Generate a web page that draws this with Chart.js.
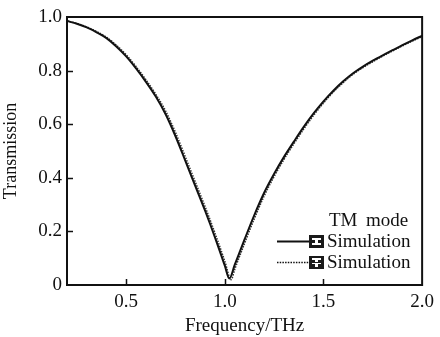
<!DOCTYPE html>
<html><head><meta charset="utf-8">
<script src="https://cdn.jsdelivr.net/npm/chart.js@4/dist/chart.umd.min.js"></script>
<style>html,body{margin:0;padding:0;background:#fff}#wrap{width:440px;height:337px;position:relative}</style>
</head><body><div id="wrap"><canvas id="c" width="440" height="337"></canvas></div>
<script>
const freqSolid  = [0.2,0.25,0.3,0.35,0.4,0.45,0.5,0.55,0.6,0.65,0.7,0.75,0.8,0.85,0.9,0.95,1.0,1.023,1.05,1.1,1.15,1.2,1.25,1.3,1.35,1.4,1.45,1.5,1.55,1.6,1.65,1.7,1.75,1.8,1.85,1.9,1.95,2.0];
const transSolid = [0.985,0.975,0.961,0.943,0.921,0.89,0.853,0.808,0.758,0.703,0.637,0.555,0.463,0.37,0.277,0.178,0.072,0.024,0.075,0.17,0.262,0.345,0.415,0.478,0.535,0.59,0.64,0.685,0.725,0.76,0.79,0.815,0.837,0.857,0.876,0.895,0.913,0.93];
const freqDotted  = [0.2,0.25,0.3,0.35,0.4,0.45,0.5,0.55,0.6,0.65,0.7,0.75,0.8,0.85,0.9,0.95,1.0,1.032,1.05,1.1,1.15,1.2,1.25,1.3,1.35,1.4,1.45,1.5,1.55,1.6,1.65,1.7,1.75,1.8,1.85,1.9,1.95,2.0];
const transDotted = [0.985,0.976,0.963,0.946,0.925,0.895,0.859,0.815,0.766,0.712,0.649,0.569,0.478,0.385,0.292,0.194,0.089,0.02,0.058,0.155,0.248,0.333,0.405,0.469,0.527,0.582,0.633,0.679,0.72,0.755,0.786,0.811,0.833,0.854,0.873,0.892,0.91,0.927];
const xTicks = [0.5,1.0,1.5,2.0];
const yTicks = [0,0.2,0.4,0.6,0.8,1.0];
const legendTitle = 'TM mode';
const legendLabels = ['Simulation','Simulation'];

const FONT = 'Liberation Serif';
const pts = (xs, ys) => xs.map((x,i)=>({x, y: ys[i]}));

const frame = {
  id:'frame',
  afterDraw(chart){
    const {ctx, chartArea:a, scales} = chart;
    ctx.save();
    ctx.strokeStyle = '#111'; ctx.lineWidth = 2;
    ctx.strokeRect(a.left, a.top, a.right-a.left, a.bottom-a.top);
    ctx.lineWidth = 1.5;
    ctx.beginPath();
    xTicks.forEach(v=>{ const px = Math.round(scales.x.getPixelForValue(v))+0.5; if(v<2){ctx.moveTo(px,a.bottom); ctx.lineTo(px,a.bottom-6);} });
    yTicks.forEach(v=>{ const py = Math.round(scales.y.getPixelForValue(v))+0.5; if(v>0 && v<1){ctx.moveTo(a.left,py); ctx.lineTo(a.left+6,py);} });
    ctx.stroke();
    // legend
    ctx.fillStyle = '#111';
    ctx.font = '19px "' + FONT + '"';
    ctx.textBaseline = 'middle';
    ctx.textAlign = 'left';
    ctx.fillText(legendTitle.replace(' ','\u2009 '), 329, 221);
    const rows = [241, 262];
    rows.forEach((y,i)=>{
      ctx.save();
      ctx.strokeStyle = '#111';
      ctx.lineWidth = i===0 ? 2 : 1.5;
      ctx.setLineDash(i===0 ? [] : [1.5,1.2]);
      ctx.beginPath(); ctx.moveTo(277,y+0.5); ctx.lineTo(309,y+0.5); ctx.stroke();
      ctx.restore();
      ctx.fillStyle = '#1a1a1a';
      ctx.fillRect(309, y-6, 15, 13);
      ctx.fillStyle = '#fff';
      if(i===0){
        ctx.fillRect(312, y-3, 9, 2);
        ctx.fillRect(315, y-1, 3, 3);
        ctx.fillRect(312, y+2, 9, 2);
      } else {
        ctx.fillRect(312, y-4, 9, 2);
        ctx.fillRect(315, y-2, 3, 2);
        ctx.fillRect(312, y+1, 9, 1);
        ctx.fillRect(315, y+2, 3, 3);
      }
      ctx.fillStyle = '#111';
      ctx.fillText(legendLabels[i], 327, y+1);
    });
    ctx.restore();
  }
};

new Chart(document.getElementById('c'), {
  type:'line',
  data:{ datasets:[
    { data: pts(freqSolid, transSolid), borderColor:'#111', borderWidth:2, pointRadius:0, cubicInterpolationMode:'monotone', fill:false },
    { data: pts(freqDotted, transDotted), borderColor:'#333', borderWidth:1.5, borderDash:[1.5,1.2], pointRadius:0, cubicInterpolationMode:'monotone', fill:false }
  ]},
  options:{
    responsive:false, animation:false,
    layout:{ padding:{ left:0, top:17, right:13, bottom:0 } },
    plugins:{ legend:{display:false}, tooltip:{enabled:false} },
    scales:{
      x:{ type:'linear', min:0.2, max:2.0,
        afterBuildTicks: s => { s.ticks = xTicks.map(v=>({value:v})); },
        afterFit: s => { s.height = 52; },
        grid:{ display:false, drawTicks:false }, border:{ display:false },
        ticks:{ color:'#111', font:{ family:FONT, size:19 }, padding:6, maxRotation:0, autoSkip:false,
          callback: v => v.toFixed(1) },
        title:{ display:true, text:'Frequency/THz', color:'#111', font:{ family:FONT, size:19 }, padding:{top:2,bottom:0} }
      },
      y:{ type:'linear', min:0, max:1.0,
        afterBuildTicks: s => { s.ticks = yTicks.map(v=>({value:v})); },
        afterFit: s => { s.width = 67; },
        grid:{ display:false, drawTicks:false }, border:{ display:false },
        ticks:{ color:'#111', font:{ family:FONT, size:19 }, padding:5, autoSkip:false,
          callback: v => v===0 ? '0' : v.toFixed(1) },
        title:{ display:true, text:'Transmission', color:'#111', font:{ family:FONT, size:18 }, padding:{top:0,bottom:0} }
      }
    }
  },
  plugins:[frame]
});
</script></body></html>
